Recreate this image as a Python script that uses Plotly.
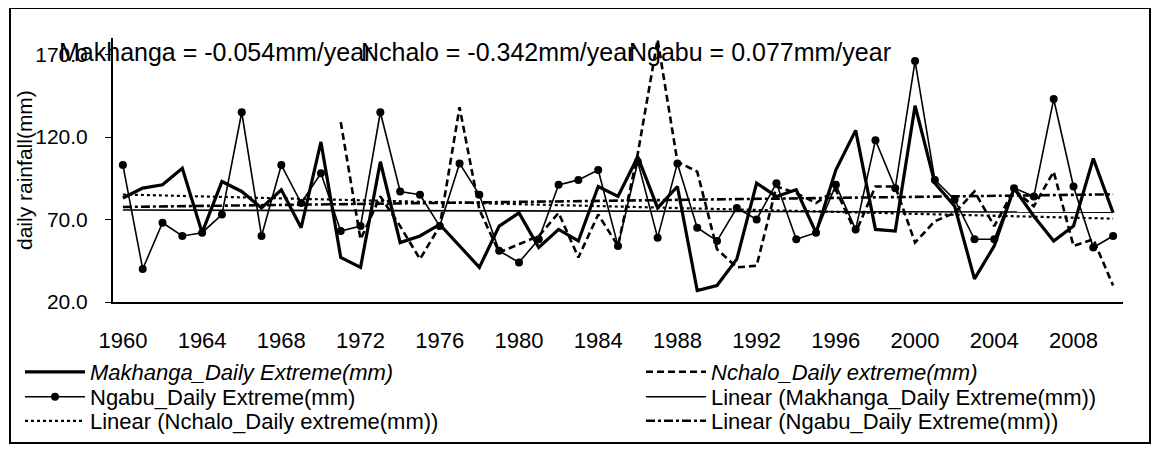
import numpy as np
import plotly.graph_objects as go

years = list(range(1960, 2011))

makhanga = [
    83, 89, 91, 101, 62, 93, 87, 77, 88, 65,
    117, 47, 41, 105, 56, 60, 67, 54, 41, 66,
    74, 53, 64, 57, 90, 84, 108, 77, 90, 27,
    30, 46, 92, 84, 88, 62, 100, 124, 64, 63,
    139, 92, 78, 34, 54, 89, 72, 57, 66, 107,
    74,
]

nchalo = [None] * 11 + [
    129, 58, 84, 66, 46, 66, 138, 76, 50,
    55, 60, 74, 47, 73, 54, 110, 179, 105, 99,
    52, 41, 42, 90, 86, 80, 88, 62, 90, 90,
    56, 69, 74, 87, 66, 88, 78, 99, 54, 58,
    30,
]

ngabu = [
    103, 40, 68, 60, 62, 73, 135, 60, 103, 80,
    98, 63, 66, 135, 87, 85, 66, 104, 85, 51,
    44, 58, 91, 94, 100, 54, 105, 59, 104, 65,
    57, 77, 70, 92, 58, 62, 91, 64, 118, 89,
    166, 94, 82, 58, 58, 89, 84, 143, 90, 53,
    60,
]

slope_labels = [
    "Makhanga = -0.054mm/year",
    "Nchalo = -0.342mm/year",
    "Ngabu = 0.077mm/year",
]
y_ticks = [20, 70, 120, 170]
x_ticks = years[::4]

FONT = "Liberation Sans, Arial, sans-serif"

# page body has an 8px margin, so the figure is drawn 8px in from the corner
PAGE_OFF = 8
W, H = 1159 - PAGE_OFF, 449 - PAGE_OFF

# plot area in screen pixels (reference scan)
L, R, T, B = 113, 1123, 38, 302


def px_x(px):
    return (px - L) / (R - L)


def px_y(py):
    return (B - py) / (B - T)


def trend(values):
    x = np.array([yr for yr, v in zip(years, values) if v is not None], dtype=float)
    y = np.array([v for v in values if v is not None], dtype=float)
    k, b = np.polyfit(x, y, 1)
    return [k * yr + b for yr in years]


# (name, values, line style, marker?, legend slot)
series = [
    ("<i>Makhanga_Daily Extreme(mm)</i>", makhanga,
     {"width": 3.2}, False, "legend"),
    ("<i>Nchalo_Daily extreme(mm)</i>", nchalo,
     {"width": 2.6, "dash": "7px,4px"}, False, "legend2"),
    ("Ngabu_Daily Extreme(mm)", ngabu,
     {"width": 1.6}, True, "legend3"),
    ("Linear (Makhanga_Daily Extreme(mm))", trend(makhanga),
     {"width": 1.6}, False, "legend4"),
    ("Linear (Nchalo_Daily extreme(mm))", trend(nchalo),
     {"width": 2.2, "dash": "dot"}, False, "legend5"),
    ("Linear (Ngabu_Daily Extreme(mm))", trend(ngabu),
     {"width": 2.6, "dash": "dashdot"}, False, "legend6"),
]

fig = go.Figure()
for name, vals, line, has_marker, leg in series:
    fig.add_trace(go.Scatter(
        x=years, y=vals, name=name, legend=leg,
        mode="lines+markers" if has_marker else "lines",
        line={"color": "black", **line},
        marker={"color": "black", "size": 8},
    ))

for text, left in zip(slope_labels, [57, 359, 627]):
    fig.add_annotation(
        text=text, xref="paper", yref="paper", x=px_x(left), y=px_y(52),
        xanchor="left", yanchor="middle", showarrow=False,
        font={"size": 25, "color": "black", "family": FONT},
    )

fig.add_annotation(
    text="daily rainfall(mm)", xref="paper", yref="paper", x=px_x(24), y=0.5,
    textangle=-90, showarrow=False, xanchor="center", yanchor="middle",
    font={"size": 21, "color": "black", "family": FONT},
)

# outer chart border
fig.add_shape(
    type="rect", xref="paper", yref="paper",
    x0=px_x(10), x1=px_x(1150), y0=px_y(443), y1=px_y(8),
    line={"color": "black", "width": 2},
)

# legend: two columns, three rows like the Excel layout
legend_slots = {
    "legend": (20, 372), "legend2": (641, 372),
    "legend3": (20, 397), "legend4": (641, 397),
    "legend5": (20, 421), "legend6": (641, 421),
}
legend_layout = {}
for key, (lx, ly) in legend_slots.items():
    legend_layout[key] = {
        "x": px_x(lx), "y": px_y(ly),
        "xanchor": "left", "yanchor": "middle",
        "itemwidth": 60,
        "font": {"size": 22, "family": FONT, "color": "black"},
        "bgcolor": "rgba(0,0,0,0)",
    }

fig.update_layout(
    width=W,
    height=H,
    margin={
        "l": L - PAGE_OFF, "r": 1159 - R, "t": T - PAGE_OFF, "b": 449 - B,
        "pad": 0, "autoexpand": False,
    },
    paper_bgcolor="white",
    plot_bgcolor="white",
    font={"family": FONT, "color": "black", "size": 20},
    showlegend=True,
    **legend_layout,
)
fig.update_xaxes(
    range=[1959.5, 2010.5],
    tickvals=x_ticks,
    showline=True, linecolor="black", linewidth=2,
    ticks="", showgrid=False, zeroline=False,
    tickfont={"size": 22},
    ticklabelstandoff=18,
)
fig.update_yaxes(
    range=[20, 180],
    tickvals=y_ticks,
    tickformat=".1f",
    showline=True, linecolor="black", linewidth=2,
    ticks="outside", ticklen=6, tickcolor="black",
    showgrid=False, zeroline=False,
    tickfont={"size": 21},
    ticklabelstandoff=13,
)

fig.write_html("out.html")
